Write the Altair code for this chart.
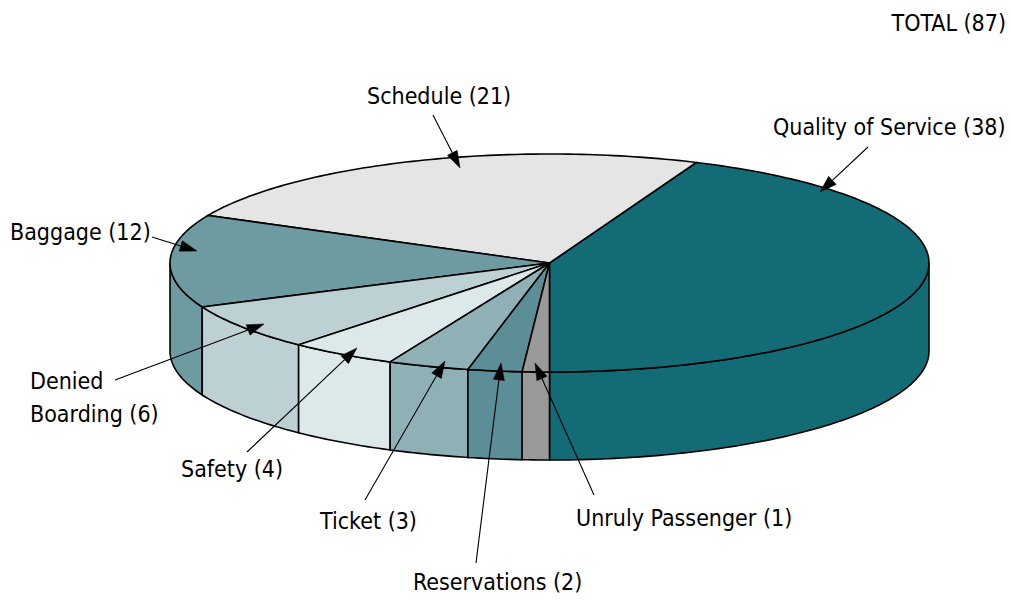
import math
import altair as alt

# ---- data ----
categories = ["Quality of Service", "Schedule", "Baggage", "Denied Boarding",
              "Safety", "Ticket", "Reservations", "Unruly Passenger"]
counts = [38, 21, 12, 6, 4, 3, 2, 1]
colors = ["#136b76", "#e5e5e5", "#6e9aa1", "#bdd0d4",
          "#dce8e9", "#8fb1b6", "#5b8e96", "#999999"]

# ---- layout (pixels) ----
CX, CY, RX, RY, DEPTH = 549.5, 263.0, 379.5, 109.0, 88.0
START_ANGLE = -90.0
FONT = "Liberation Sans Narrow, DejaVu Sans Condensed, Roboto, sans-serif"
FONT_SIZE = 23

# label lines (left x, middle y) and arrow (start -> tip), per category
label_layout = {
    "Quality of Service": {"lines": [(773, 128)], "arrow": ((868, 147), (820, 192))},
    "Schedule": {"lines": [(367, 97)], "arrow": ((433, 115), (460, 168))},
    "Baggage": {"lines": [(10, 233)], "arrow": ((152, 237), (197, 251))},
    "Denied Boarding": {"lines": [(30, 382), (30, 415)], "split": ["Denied", "Boarding"],
                        "arrow": ((115, 380), (264, 324))},
    "Safety": {"lines": [(181, 470)], "arrow": ((247, 452), (357, 348))},
    "Ticket": {"lines": [(320, 522)], "arrow": ((365, 500), (445, 361))},
    "Reservations": {"lines": [(413, 583)], "arrow": ((476, 563), (501, 363))},
    "Unruly Passenger": {"lines": [(576, 519)], "arrow": ((594, 495), (535, 363))},
}
total_pos = (1006, 24)


def rim(a, dy=0.0):
    r = math.radians(a)
    return [CX + RX * math.cos(r), CY - RY * math.sin(r) + dy]


def arc_pts(a1, a2, dy=0.0):
    n = max(2, int(abs(a2 - a1)) + 2)
    return [rim(a1 + (a2 - a1) * i / (n - 1), dy) for i in range(n)]


total = sum(counts)
sides, tops = [], []
a = START_ANGLE
for cat, n, col in zip(categories, counts, colors):
    a1, a2 = a, a + 360.0 * n / total
    a = a2
    ring = [[CX, CY]] + arc_pts(a1, a2) + [[CX, CY]]
    tops.append({"type": "Feature", "properties": {"color": col, "cat": cat},
                 "geometry": {"type": "Polygon", "coordinates": [ring]}})
    for lo, hi in [(-180.0, 0.0), (180.0, 360.0)]:
        b1, b2 = max(a1, lo), min(a2, hi)
        if b2 > b1:
            pts = arc_pts(b1, b2) + arc_pts(b2, b1, DEPTH)
            pts.append(pts[0])
            sides.append({"type": "Feature", "properties": {"color": col, "cat": cat},
                          "geometry": {"type": "Polygon", "coordinates": [pts]}})

arrows, heads, texts = [], [], []
for cat, n in zip(categories, counts):
    lay = label_layout[cat]
    (sx, sy), (tx, ty) = lay["arrow"]
    ang = math.atan2(ty - sy, tx - sx)
    L, W = 17.0, 5.5
    bx, by = tx - L * math.cos(ang), ty - L * math.sin(ang)
    px, py = -math.sin(ang), math.cos(ang)
    arrows.append({"type": "Feature", "properties": {},
                   "geometry": {"type": "LineString", "coordinates": [[sx, sy], [bx, by]]}})
    heads.append({"type": "Feature", "properties": {},
                  "geometry": {"type": "Polygon", "coordinates": [[
                      [tx, ty], [bx + W * px, by + W * py], [bx - W * px, by - W * py], [tx, ty]]]}})
    words = lay.get("split", [cat])
    for i, (lx, ly) in enumerate(lay["lines"]):
        t = words[i]
        if i == len(lay["lines"]) - 1:
            t = f"{t} ({n})"
        texts.append({"text": t, "lon": lx, "lat": ly})

side_layer = alt.Chart(alt.Data(values=sides)).mark_geoshape(
    stroke="black", strokeWidth=1.6).encode(fill=alt.Fill("properties.color:N", scale=None))
top_layer = alt.Chart(alt.Data(values=tops)).mark_geoshape(
    stroke="black", strokeWidth=1.6).encode(fill=alt.Fill("properties.color:N", scale=None))
arrow_layer = alt.Chart(alt.Data(values=arrows)).mark_geoshape(
    filled=False, stroke="black", strokeWidth=1.1)
head_layer = alt.Chart(alt.Data(values=heads)).mark_geoshape(
    fill="black", stroke="black", strokeWidth=0.5)
text_layer = alt.Chart(alt.Data(values=texts)).mark_text(
    font=FONT, fontSize=FONT_SIZE, align="left", baseline="middle", color="black"
).encode(longitude="lon:Q", latitude="lat:Q", text="text:N")
total_layer = alt.Chart(alt.Data(values=[{"text": f"TOTAL ({total})", "lon": total_pos[0], "lat": total_pos[1]}])).mark_text(
    font=FONT, fontSize=FONT_SIZE, align="right", baseline="middle", color="black"
).encode(longitude="lon:Q", latitude="lat:Q", text="text:N")

chart = alt.layer(side_layer, top_layer, arrow_layer, head_layer, text_layer, total_layer).project(
    type="identity", scale=1, translate=[0, 0]
).properties(
    width=1011, height=601, padding=0, autosize="none", background="white"
).configure_view(stroke=None)

chart.save("out.html", embed_options={"renderer": "svg", "actions": False})
